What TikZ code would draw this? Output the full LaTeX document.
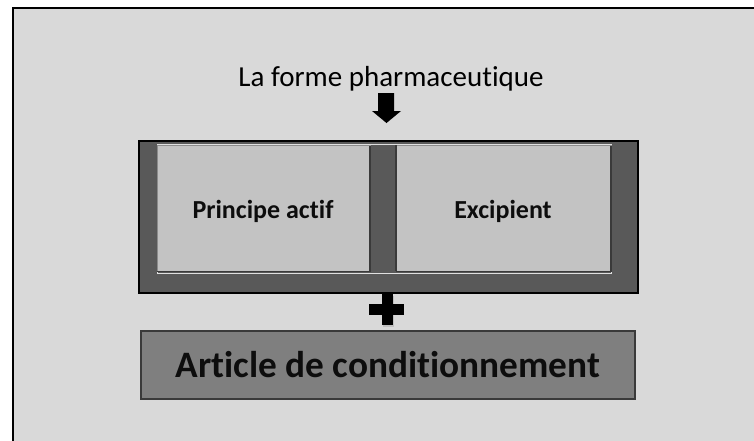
\documentclass[tikz,border=0pt]{standalone}
\usepackage{fontspec}
\setmainfont[Ligatures={NoCommon,NoRare,NoContextual}]{Carlito}
\definecolor{bgfill}{HTML}{D9D9D9}
\definecolor{darkfill}{HTML}{595959}
\definecolor{lightfill}{HTML}{C3C3C3}
\definecolor{midfill}{HTML}{7F7F7F}
\definecolor{boxedge}{HTML}{8C8C8C}
\definecolor{shadowedge}{HTML}{3A3A3A}
\definecolor{groupedge}{HTML}{E0E0E0}
\tikzset{
  every node/.style={inner sep=0pt, outer sep=0pt},
  panel/.style={fill=lightfill, draw=boxedge, line width=0.8pt},
  labeltext/.style={font=\fontsize{26}{30}\selectfont\bfseries, text=black!95},
}
\begin{document}
\begin{tikzpicture}[x=1pt,y=-1pt]
  \useasboundingbox (0,0) rectangle (754,440);
  \clip (0,0) rectangle (754,440);
  % outer frame
  \draw[fill=bgfill, draw=black, line width=2.2pt] (13,8) rectangle (770,460);

  % title and arrow
  \node (title) at (391,79) {\fontsize{29}{34}\selectfont La forme pharmaceutique};
  \fill[black] (378,93) -- (394,93) -- (394,111) -- (401,111) -- (386.5,123) -- (372,111) -- (378,111) -- cycle;

  % dark container
  \node[draw=black, fill=darkfill, line width=2pt, minimum width=499pt, minimum height=152pt, anchor=north west] (group) at (139,141) {};
  % light outline of the group
  \draw[groupedge, line width=0.8pt] (157,144) rectangle (611,273);
  % two inner boxes
  \node[panel, minimum width=213pt, minimum height=126pt, anchor=north west] (pa) at (157,145) {};
  \node[panel, minimum width=215pt, minimum height=126pt, anchor=north west] (ex) at (396,145) {};
  \draw[shadowedge, line width=1.2pt] ([yshift=-0.6pt]pa.south west) -- ([yshift=-0.6pt]pa.south east) -- ([yshift=-0.6pt]pa.north east);
  \draw[shadowedge, line width=1.2pt] ([yshift=-0.6pt]ex.south west) -- ([yshift=-0.6pt]ex.south east) -- ([yshift=-0.6pt]ex.north east);
  \draw[shadowedge, line width=1.2pt] (ex.south west) -- (ex.north west);
  \node[labeltext] at (263,211) {Principe actif};
  \node[labeltext] at (503,211) {Excipient};

  % plus sign
  \fill[black!35, opacity=0.5] (383,296) rectangle (394,327);
  \fill[black] (382,294) rectangle (393,325);
  \fill[black] (369,304) rectangle (404,315);

  % bottom box
  \node[draw=shadowedge, fill=midfill, line width=2pt, minimum width=494pt, minimum height=68pt, anchor=north west] (art) at (141,331) {};
  \node[font=\fontsize{37.3}{42}\selectfont\bfseries, text=black!95] at (art.center) {Article de conditionnement};
\end{tikzpicture}
\end{document}
